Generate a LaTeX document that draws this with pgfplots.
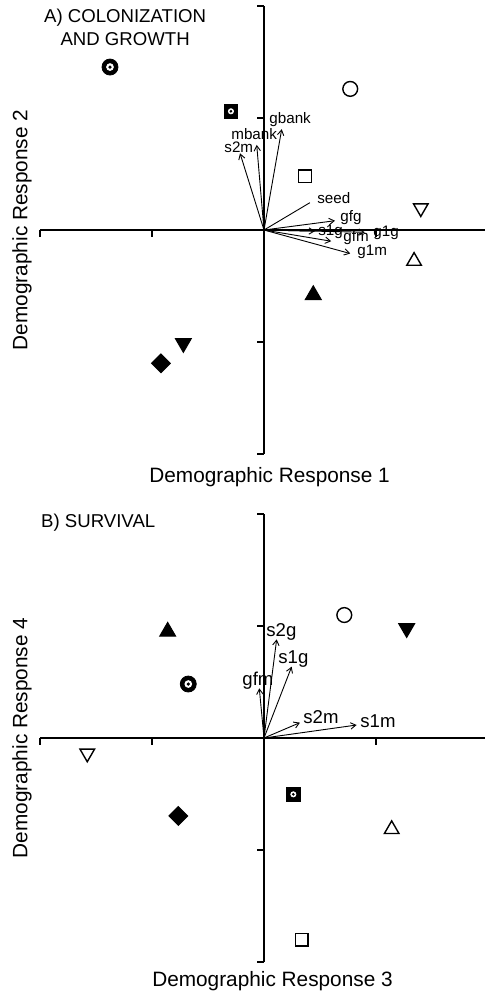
\documentclass[border=0pt]{standalone}
\usepackage{pgfplots}
\pgfplotsset{compat=1.18}
\usepackage{fontspec}
\setmainfont{Liberation Sans}
\usetikzlibrary{arrows.meta}

\pgfplotsset{
  biplot/.style={
    scale only axis, width=224pt, height=224pt,
    xmin=-2, xmax=2, ymin=-2, ymax=2,
    axis lines=middle,
    axis line style={-, line width=1pt},
    xtick={-2,-1,1,2}, ytick={-2,-1,1,2},
    xticklabels={}, yticklabels={},
    tick align=outside,
    major tick length=3.3pt,
    tick style={line width=1pt, black},
    clip=false,
    anchor=origin,
  },
  arr/.style={black, line width=0.45pt, no marks, -{Straight Barb[length=2.6pt,width=3.2pt]}},
  seg/.style={black, line width=0.45pt, no marks},
  opn/.style={only marks, black, mark options={fill=white, draw=black, line width=0.7pt}},
  opndown/.style={only marks, black, mark options={fill=white, draw=black, line width=0.7pt, rotate=180}},
  fil/.style={only marks, black, mark options={fill=black, draw=black, line width=0.5pt}},
  fildown/.style={only marks, black, mark options={fill=black, draw=black, line width=0.5pt, rotate=180}},
  fildia/.style={only marks, black, mark options={fill=black, draw=black, line width=0.5pt, rotate=45}},
}
\tikzset{
  lblA/.style={font=\fontsize{7.6pt}{8pt}\selectfont, inner sep=0pt, anchor=west},
  lblB/.style={font=\fontsize{9.3pt}{10pt}\selectfont, inner sep=0pt, anchor=west},
  axlab/.style={font=\fontsize{10.4pt}{12pt}\selectfont, inner sep=0pt},
  ttl/.style={font=\fontsize{9.3pt}{11.5pt}\selectfont, inner sep=0pt, align=center},
}

\begin{document}
\begin{tikzpicture}
% ---------------- Panel A ----------------
\begin{axis}[biplot, at={(132pt,-115pt)}]
  % arrows (demographic variables)
  \addplot[arr] coordinates {(0,0) (0.158,0.90)};   % gbank
  \addplot[arr] coordinates {(0,0) (-0.065,0.76)};  % mbank
  \addplot[arr] coordinates {(0,0) (-0.214,0.685)}; % s2m
  \addplot[seg] coordinates {(0,0) (0.41,0.244)};   % seed
  \addplot[arr] coordinates {(0,0) (0.634,0.083)};  % gfg
  \addplot[arr] coordinates {(0,0) (0.455,-0.01)};  % s1g
  \addplot[arr] coordinates {(0,0) (0.60,-0.10)};   % gfm
  \addplot[arr] coordinates {(0,0) (0.90,-0.02)};   % g1g
  \addplot[arr] coordinates {(0,0) (0.77,-0.21)};   % g1m
  \node[lblA] at (axis cs:0.045,0.982) {gbank};
  \node[lblA] at (axis cs:-0.295,0.857) {mbank};
  \node[lblA] at (axis cs:-0.357,0.741) {s2m};
  \node[lblA] at (axis cs:0.473,0.286) {seed};
  \node[lblA] at (axis cs:0.679,0.107) {gfg};
  \node[lblA] at (axis cs:0.482,-0.018) {s1g};
  \node[lblA] at (axis cs:0.705,-0.071) {gfm};
  \node[lblA] at (axis cs:0.973,-0.027) {g1g};
  \node[lblA] at (axis cs:0.83,-0.196) {g1m};
  % sites / species scores
  \addplot[only marks, mark=*, mark size=4pt, black] coordinates {(-1.375,1.455)};
  \addplot[only marks, mark=*, mark size=1.7pt, white] coordinates {(-1.375,1.455)};
  \addplot[only marks, mark=*, mark size=0.6pt, black] coordinates {(-1.375,1.455)};
  \addplot[opn, mark=o, mark size=3.7pt] coordinates {(0.77,1.26)};
  \addplot[only marks, mark=square*, mark size=3.4pt, black] coordinates {(-0.295,1.06)};
  \addplot[only marks, mark=*, mark size=1.3pt, white] coordinates {(-0.295,1.06)};
  \addplot[only marks, mark=*, mark size=0.45pt, black] coordinates {(-0.295,1.06)};
  \addplot[opn, mark=square*, mark size=3.2pt] coordinates {(0.366,0.48)};
  \addplot[opndown, mark=triangle*, mark size=4.2pt] coordinates {(1.40,0.196)};
  \addplot[opn, mark=triangle*, mark size=4.2pt] coordinates {(1.34,-0.277)};
  \addplot[fil, mark=triangle*, mark size=4.6pt] coordinates {(0.44,-0.58)};
  \addplot[fildown, mark=triangle*, mark size=4.6pt] coordinates {(-0.72,-1.01)};
  \addplot[fildia, mark=square*, mark size=3.3pt] coordinates {(-0.92,-1.19)};
  % labels
  \node[ttl] at (axis cs:-1.24,1.81) {A) COLONIZATION\\AND GROWTH};
  \node[axlab] at (axis cs:0.05,-2.205) {Demographic Response 1};
  \node[axlab, rotate=90] at (axis cs:-2.16,0) {Demographic Response 2};
\end{axis}
% ---------------- Panel B ----------------
\begin{axis}[biplot, at={(132pt,-369pt)}]
  \addplot[arr] coordinates {(0,0) (0.113,0.881)};  % s2g
  \addplot[arr] coordinates {(0,0) (0.247,0.637)};  % s1g
  \addplot[arr] coordinates {(0,0) (-0.042,0.444)}; % gfm
  \addplot[arr] coordinates {(0,0) (0.321,0.137)};  % s2m
  \addplot[arr] coordinates {(0,0) (0.827,0.116)};  % s1m
  \node[lblB] at (axis cs:0.018,0.949) {s2g};
  \node[lblB] at (axis cs:0.125,0.705) {s1g};
  \node[lblB] at (axis cs:-0.196,0.509) {gfm};
  \node[lblB] at (axis cs:0.348,0.185) {s2m};
  \node[lblB] at (axis cs:0.857,0.146) {s1m};
  \addplot[opn, mark=o, mark size=3.7pt] coordinates {(0.717,1.098)};
  \addplot[fildown, mark=triangle*, mark size=4.6pt] coordinates {(1.274,0.98)};
  \addplot[fil, mark=triangle*, mark size=4.6pt] coordinates {(-0.86,0.95)};
  \addplot[only marks, mark=*, mark size=4pt, black] coordinates {(-0.676,0.482)};
  \addplot[only marks, mark=*, mark size=1.7pt, white] coordinates {(-0.676,0.482)};
  \addplot[only marks, mark=*, mark size=0.6pt, black] coordinates {(-0.676,0.482)};
  \addplot[opndown, mark=triangle*, mark size=4.2pt] coordinates {(-1.578,-0.137)};
  \addplot[only marks, mark=square*, mark size=3.4pt, black] coordinates {(0.262,-0.503)};
  \addplot[only marks, mark=*, mark size=1.3pt, white] coordinates {(0.262,-0.503)};
  \addplot[only marks, mark=*, mark size=0.45pt, black] coordinates {(0.262,-0.503)};
  \addplot[fildia, mark=square*, mark size=3.3pt] coordinates {(-0.765,-0.696)};
  \addplot[opn, mark=triangle*, mark size=4.2pt] coordinates {(1.14,-0.815)};
  \addplot[opn, mark=square*, mark size=3.2pt] coordinates {(0.336,-1.80)};
  \node[ttl] at (axis cs:-1.48,1.924) {B) SURVIVAL};
  \node[axlab] at (axis cs:0.076,-2.17) {Demographic Response 3};
  \node[axlab, rotate=90] at (axis cs:-2.16,0) {Demographic Response 4};
\end{axis}
\pgfresetboundingbox
\path[use as bounding box] (0,0) rectangle (242.5pt,-496.5pt);
\end{tikzpicture}
\end{document}
